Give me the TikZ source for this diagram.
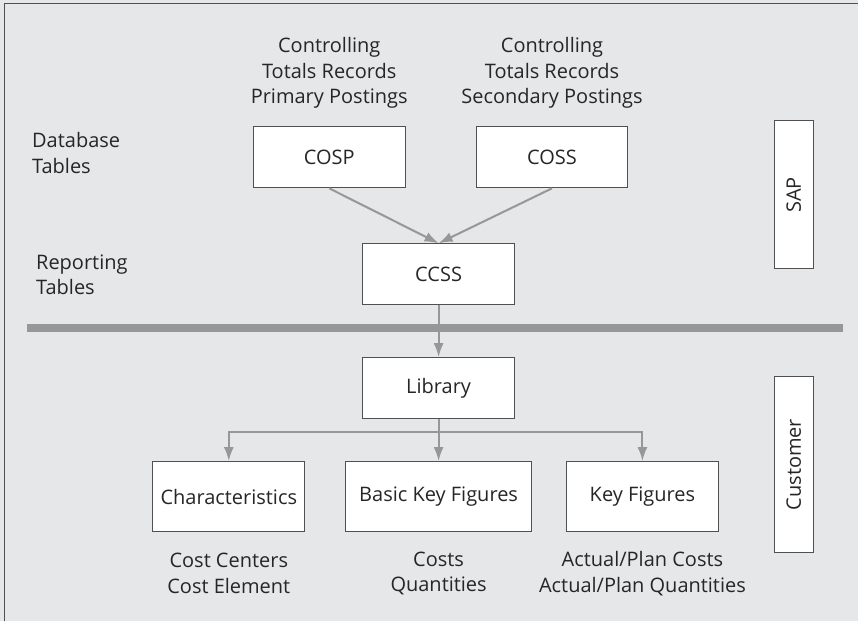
\documentclass[tikz,border=0pt]{standalone}
\usepackage{fontspec}
\setmainfont{Open Sans}
\usetikzlibrary{positioning,arrows.meta}
\definecolor{bggray}{RGB}{230,231,232}
\definecolor{linegray}{RGB}{150,151,153}
\definecolor{framegray}{RGB}{80,80,80}

\begin{document}
\begin{tikzpicture}[x=1pt,y=-1pt,>={Latex[length=14pt,width=10pt]},
  every node/.style={font=\fontsize{20}{25.5}\selectfont,text=black!85},
  tbl/.style={draw=framegray,fill=white,line width=1pt,minimum width=152pt,minimum height=61pt,inner sep=0pt},
  side/.style={draw=framegray,fill=white,line width=1pt,minimum height=39pt,inner sep=0pt,rotate=90},
  lbl/.style={inner sep=0pt},
  flow/.style={->,draw=linegray,line width=2pt}]
  % page
  \fill[bggray] (0,0) rectangle (859,622);
  \draw[framegray,line width=1.5pt] (4.5,622) -- (4.5,3.5) -- (859,3.5);
  % database and reporting tables
  \node[tbl] (cosp) at (329.5,157.5) {COSP};
  \node[tbl] (coss) at (552.5,157.5) {COSS};
  \node[tbl] (ccss) at (439,274.5) {CCSS};
  \node[lbl,align=center] (cosptxt) at (329.5,73) {Controlling\\Totals Records\\Primary Postings};
  \node[lbl,align=center] (cosstxt) at (552.5,73) {Controlling\\Totals Records\\Secondary Postings};
  \node[lbl,align=left,anchor=west] (dbtxt) at (32,153) {Database\\Tables};
  \node[lbl,align=left,anchor=west] (reptxt) at (36,275) {Reporting\\Tables};
  \node[side,minimum width=148pt] (sap) at (794.5,195) {SAP};
  \draw[flow] (cosp.south) -- (ccss.north);
  \draw[flow] (coss.south) -- (ccss.north);
  % divider
  \draw[linegray,line width=8pt] (27,328) -- (844,328);
  % customer part
  \node[tbl] (library) at (439,388.5) {Library};
  \node[tbl,minimum height=70pt] (charac) at (229,497) {Characteristics};
  \node[tbl,minimum width=186pt,minimum height=70pt] (basic) at (439,497) {Basic Key Figures};
  \node[tbl,minimum height=70pt] (keyfig) at (643,497) {Key Figures};
  \node[side,minimum width=176pt] (customer) at (794.5,465) {Customer};
  \node[lbl,align=center] (charactxt) at (229,574) {Cost Centers\\Cost Element};
  \node[lbl,align=center] (basictxt) at (439,574) {Costs\\Quantities};
  \node[lbl,align=center] (keyfigtxt) at (643,574) {Actual/Plan Costs\\Actual/Plan Quantities};
  \coordinate (split) at (439,432);
  \draw[flow] (ccss.south) -- (library.north);
  \draw[flow] (library.south) -- (basic.north);
  \draw[flow] (split) -| (charac.north);
  \draw[flow] (split) -| (keyfig.north);
\end{tikzpicture}
\end{document}
